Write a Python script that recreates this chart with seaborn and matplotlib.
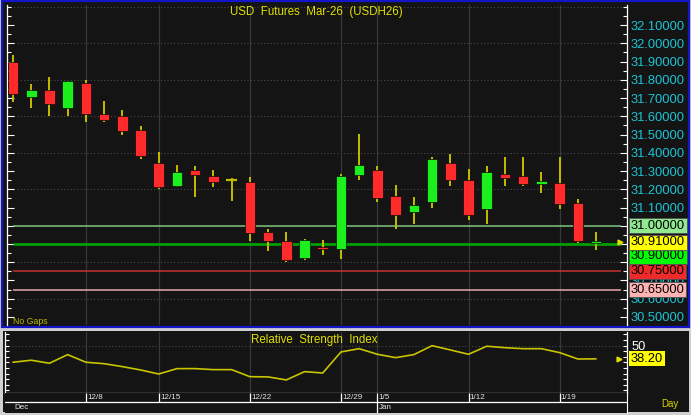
import matplotlib
matplotlib.use("Agg")
import matplotlib.pyplot as plt
import numpy as np
import pandas as pd
import seaborn as sns
from matplotlib.patches import Rectangle
from matplotlib.ticker import MultipleLocator, FuncFormatter
from matplotlib.transforms import blended_transform_factory

# --- data ---
opens = [31.900, 31.705, 31.745, 31.645, 31.780, 31.610, 31.600, 31.525, 31.345, 31.220,
         31.305, 31.275, 31.250, 31.240, 30.965, 30.915, 30.825, 30.880, 30.870, 31.280,
         31.305, 31.165, 31.075, 31.130, 31.345, 31.250, 31.090, 31.285, 31.275, 31.230,
         31.235, 31.125, 30.905]
highs = [31.935, 31.775, 31.815, 31.795, 31.800, 31.685, 31.635, 31.545, 31.405, 31.335,
         31.325, 31.305, 31.260, 31.265, 30.980, 30.965, 30.930, 30.920, 31.285, 31.505,
         31.325, 31.225, 31.155, 31.375, 31.395, 31.310, 31.325, 31.375, 31.375, 31.295,
         31.375, 31.145, 30.965]
lows = [31.680, 31.645, 31.600, 31.600, 31.570, 31.570, 31.500, 31.365, 31.200, 31.210,
        31.160, 31.210, 31.135, 30.915, 30.860, 30.800, 30.815, 30.840, 30.820, 31.250,
        31.130, 30.980, 31.010, 31.100, 31.220, 31.030, 31.010, 31.220, 31.220, 31.180,
        31.090, 30.905, 30.865]
closes = [31.720, 31.745, 31.670, 31.795, 31.610, 31.580, 31.520, 31.380, 31.210, 31.295,
          31.280, 31.240, 31.250, 30.960, 30.915, 30.810, 30.920, 30.870, 31.275, 31.335,
          31.150, 31.060, 31.115, 31.365, 31.250, 31.060, 31.295, 31.260, 31.230, 31.245,
          31.120, 30.915, 30.910]
rsi_values = [35.2, 37.0, 34.3, 42.0, 35.2, 33.9, 31.3, 28.3, 24.7, 29.5,
              29.5, 28.6, 28.6, 22.3, 22.1, 19.4, 26.8, 25.6, 44.4, 47.3,
              42.3, 39.3, 42.0, 50.0, 46.2, 42.3, 49.5, 48.2, 47.3, 47.3,
              43.8, 38.1, 38.2]

week_idx = [4, 8, 13, 18, 20, 25, 30]
week_labels = ["12/8", "12/15", "12/22", "12/29", "1/5", "1/12", "1/19"]
month_idx = [0, 20]
month_labels = ["Dec", "Jan"]

level_values = [31.00, 30.90, 30.75, 30.65]
level_line_colors = ["#7cc47c", "#00a000", "#c83232", "#e6aaaa"]
level_box_colors = ["#90e890", "#00ff00", "#ee2a2a", "#ffb4b4"]
last_price = 30.91
last_rsi = 38.20

df = pd.DataFrame({"open": opens, "high": highs, "low": lows, "close": closes,
                   "rsi": rsi_values})
df["idx"] = np.arange(len(df))

# --- style ---
W, H = 691, 415
BG = "#141414"
YEL = "#e2e000"
WICK = "#c4bc00"
CYAN = "#1cc4d4"
sns.set_style("dark", {"axes.facecolor": BG, "figure.facecolor": "#d0d0d0"})
plt.rcParams["font.family"] = ["Liberation Sans", "DejaVu Sans"]

fig = plt.figure(figsize=(W / 100, H / 100), dpi=100)
X0, DX = 13, 18.22  # pixel of first bar, pixels per bar


def px_axes(l, t, r, b):
    ax = fig.add_axes([l / W, 1 - b / H, (r - l) / W, (b - t) / H])
    ax.set_xlim((l - X0) / DX, (r - X0) / DX)
    ax.set_facecolor(BG)
    return ax


def px_rect(l, t, r, b, **kw):
    fig.add_artist(Rectangle((l / W, 1 - b / H), (r - l) / W, (b - t) / H,
                             transform=fig.transFigure, zorder=-1, **kw))


px_rect(2, 1.5, 689, 326.5, facecolor=BG, edgecolor="#1414c8", lw=1.6)
px_rect(3, 331, 689, 412, facecolor=BG, edgecolor="none")

# --- price panel ---
ax = px_axes(7, 5, 626.7, 325)
ax.set_ylim(30.456, 32.21)
for v in np.arange(30.6, 32.3, 0.2):
    ax.axhline(v, color="#4a4a4a", lw=0.8, ls=(0, (1, 2)), zorder=0)
for i in week_idx:
    ax.axvline(i, color="#383838", lw=0.9, zorder=0)

for c, v in zip(level_line_colors, level_values):
    ax.hlines(v, 0, 33.37, color=c, lw=2 if v == 30.90 else 1.1, zorder=1)

bw = 0.58
ax.vlines(df["idx"], df["low"], df["high"], color=WICK, lw=1.4, zorder=2)
for r in df.itertuples():
    if r.open == r.close:
        ax.hlines(r.close, r.idx - bw / 2, r.idx + bw / 2, color=WICK, lw=1.6, zorder=3)
        continue
    col = "#1cf01c" if r.close > r.open else "#ff2a2a"
    lo, hi = min(r.open, r.close), max(r.open, r.close)
    ax.bar(r.idx, max(hi - lo, 0.011), bottom=lo, width=bw, color=col,
           edgecolor="#0a0a0a", lw=0.5, zorder=3)

ax.plot(33.3, last_price, marker=">", ms=3.5, color=YEL, clip_on=False, zorder=4)

# labels hidden under the level boxes are left blank
covered = {f"{v:.2f}" for v in level_values[:2]}
ax.set_yticks(np.arange(30.5, 32.15, 0.1))
ax.yaxis.set_major_formatter(
    FuncFormatter(lambda v, _: "" if f"{v:.2f}" in covered else f"{v:.5f}"))
ax.yaxis.set_minor_locator(MultipleLocator(0.05))
ax.set_xticks([])
ax.tick_params(axis="y", which="both", left=True, right=True, labelleft=False,
               labelright=True, direction="in", color="white", labelcolor=CYAN,
               labelsize=9.3, pad=3)
ax.tick_params(axis="y", which="major", length=5, width=0.8)
ax.tick_params(axis="y", which="minor", length=3, width=0.8)
for s in ["top", "bottom"]:
    ax.spines[s].set_visible(False)
for s in ["left", "right"]:
    ax.spines[s].set_visible(True)
    ax.spines[s].set_color("white")
    ax.spines[s].set_linewidth(0.9)

tr = blended_transform_factory(fig.transFigure, ax.transData)
box_offsets = [0, -9, 0, 0]
for v, c, off in zip(level_values, level_box_colors, box_offsets):
    ax.annotate(f"{v:.5f}", (631 / W, v), xycoords=tr, xytext=(0, off),
                textcoords="offset points", ha="left", va="center", fontsize=9.3,
                color="black", zorder=6, annotation_clip=False,
                bbox=dict(boxstyle="square,pad=0.12", fc=c, ec="#505050", lw=0.6))
ax.annotate(f"{last_price:.5f}", (631 / W, last_price), xycoords=tr, ha="left",
            va="center", fontsize=9.3, color="black", zorder=7, annotation_clip=False,
            bbox=dict(boxstyle="square,pad=0.12", fc="#ffff00", ec="#505050", lw=0.6))

fig.text(316 / W, 1 - 12 / H, "USD  Futures  Mar-26  (USDH26)", color=YEL,
         fontsize=8.3, ha="center", va="center")
fig.text(13 / W, 1 - 322 / H, "No Gaps", color="#b8b800", fontsize=6.3,
         ha="left", va="center")

# --- RSI panel ---
ar = px_axes(5, 332, 627, 392.7)
ar.set_ylim(8.0, 62.2)
ar.axhline(50, color="#4a4a4a", lw=0.8, ls=(0, (1, 2)), zorder=0)
for i in week_idx:
    ar.axvline(i, color="#383838", lw=0.9, zorder=0)
sns.lineplot(data=df, x="idx", y="rsi", ax=ar, color="#c8c400", lw=1.2)
ar.plot(33.26, last_rsi, marker=">", ms=3.5, color=YEL, clip_on=False)
ar.set_xlabel("")
ar.set_ylabel("")
ar.set_xticks([])
ar.set_yticks([50])
ar.yaxis.set_minor_locator(MultipleLocator(5))
ar.tick_params(axis="y", which="both", left=True, right=True, labelleft=False,
               labelright=True, direction="in", color="white", labelcolor="white",
               labelsize=9.3, pad=3, length=3, width=0.8)
ar.spines["top"].set_visible(False)
for s in ["left", "right", "bottom"]:
    ar.spines[s].set_visible(True)
    ar.spines[s].set_color("white")
    ar.spines[s].set_linewidth(0.9)
tr2 = blended_transform_factory(fig.transFigure, ar.transData)
ar.text(631 / W, last_rsi, f"{last_rsi:.2f}", transform=tr2, ha="left", va="center",
        fontsize=9.3, color="black", clip_on=False,
        bbox=dict(boxstyle="square,pad=0.12", fc="#ffff00", ec="none"))
fig.text(314 / W, 1 - 340 / H, "Relative  Strength  Index", color=YEL,
         fontsize=8.3, ha="center", va="center")
fig.text(670 / W, 1 - 404 / H, "Day", color="#d8d400", fontsize=7,
         ha="center", va="center")

# --- date strip ---
ad = px_axes(5, 392.7, 627, 413)
ad.set_ylim(0, 1)
ad.set_xticks([])
ad.set_yticks([])
for s in ["top", "left", "bottom"]:
    ad.spines[s].set_visible(False)
ad.spines["right"].set_visible(True)
ad.spines["right"].set_color("white")
ad.axhline(0.53, color="white", lw=0.9)
for i, lab in zip(week_idx, week_labels):
    ad.vlines(i, 0.53, 1, color="white", lw=0.9)
    ad.text(i + 0.07, 0.76, lab, color="#e8e8e8", fontsize=5.8, ha="left", va="center")
for i, lab in zip(month_idx, month_labels):
    if i > 0:
        ad.vlines(i, 0, 0.53, color="white", lw=0.9)
    ad.text(i + 0.07, 0.26, lab, color="#e8e8e8", fontsize=5.8, ha="left", va="center")

fig.savefig("out.png", dpi=100, facecolor=fig.get_facecolor())
